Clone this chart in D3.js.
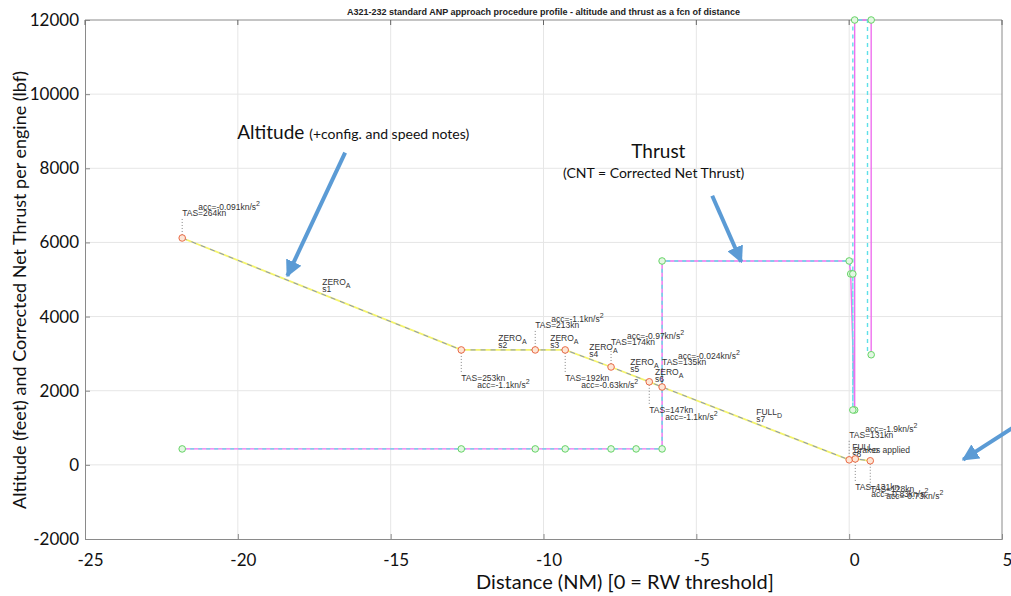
<!DOCTYPE html>
<html>
<head>
<meta charset="utf-8">
<script src="https://cdn.jsdelivr.net/npm/d3@7"></script>
<style>
  body { margin: 0; background: #fff; }
  svg { display: block; }
</style>
</head>
<body>
<script>
// altitude profile points (distance NM, feet)
const altDist = [-21.82, -12.69, -10.27, -9.29, -7.79, -6.54, -6.12, 0, 0.2, 0.69];
const altFeet = [6120, 3100, 3100, 3100, 2640, 2240, 2100, 135, 160, 110];

// speed notes per altitude point
const tasNotes = ["TAS=264kn", "TAS=253kn", "TAS=213kn", "TAS=192kn", "TAS=174kn", "TAS=147kn", "TAS=135kn", "TAS=131kn", "TAS=131kn", "TAS=128kn"];
const accNotes = ["-0.091", "-1.1", "-1.1", "-0.63", "-0.97", "-1.1", "-0.024", "-1.9", "-0.83", "-0.73"];
const noteSide = ["up", "down", "up", "down", "up", "down", "up", "up", "down", "down"];

// configuration notes along the profile
const cfgDist = [-17.24, -11.48, -9.78, -8.5, -7.16, -6.35, -3.04, 0.1];
const cfgName = ["ZERO", "ZERO", "ZERO", "ZERO", "ZERO", "ZERO", "FULL", "FULL"];
const cfgSub = ["A", "A", "A", "A", "A", "A", "D", "D"];
const cfgSeg = ["s1", "s2", "s3", "s4", "s5", "s6", "s7", "s8"];

// thrust (lbf) - two overlapping series
const thrDist = [-21.82, -12.69, -10.27, -9.29, -7.79, -6.97, -6.12, -6.12, 0, 0.05, 0.18, 0.18, 0.72, 0.72];
const thrLbf = [430, 430, 430, 430, 430, 430, 430, 5500, 5500, 5150, 1480, 12000, 12000, 2970];
const cntDist = [-21.82, -12.69, -10.27, -9.29, -7.79, -6.97, -6.12, -6.12, 0, 0.12, 0.12, 0.12, 0.6, 0.6];
const cntLbf = [430, 430, 430, 430, 430, 430, 430, 5500, 5500, 5150, 1480, 12000, 12000, 2970];

const xTicks = [-25, -20, -15, -10, -5, 0, 5];
const yTicks = [-2000, 0, 2000, 4000, 6000, 8000, 10000, 12000];

const width = 1011, height = 596;
const svg = d3.select("body").append("svg")
  .attr("width", width).attr("height", height);

const x = d3.scaleLinear().domain([-25, 5]).range([85, 1002]);
const y = d3.scaleLinear().domain([-2000, 12000]).range([539, 20]);

// grid
svg.append("g").selectAll("line").data(xTicks.slice(1, -1)).enter().append("line")
  .attr("x1", d => x(d)).attr("x2", d => x(d))
  .attr("y1", y.range()[1]).attr("y2", y.range()[0])
  .attr("stroke", "#e6e6e6").attr("stroke-width", 1);
svg.append("g").selectAll("line").data(yTicks.slice(1, -1)).enter().append("line")
  .attr("x1", x.range()[0]).attr("x2", x.range()[1])
  .attr("y1", d => y(d)).attr("y2", d => y(d))
  .attr("stroke", "#e6e6e6").attr("stroke-width", 1);

// axes
const fmt = d => String(d);
const xAxis = d3.axisBottom(x).tickValues(xTicks).tickSize(-5).tickPadding(15).tickFormat(fmt);
const yAxis = d3.axisLeft(y).tickValues(yTicks).tickSize(-5).tickPadding(6).tickFormat(fmt);
const gx = svg.append("g").attr("transform", `translate(0,${y(-2000)})`).call(xAxis);
const gy = svg.append("g").attr("transform", `translate(${x(-25)},0)`).call(yAxis);
[gx, gy].forEach(g => {
  g.select(".domain").attr("stroke", "#8a8a8a");
  g.selectAll(".tick line").attr("stroke", "#8a8a8a");
  g.selectAll("text").attr("font-family", "Lato, sans-serif").attr("font-size", 17).attr("fill", "#111");
});
gx.selectAll("text").attr("dx", 5);
// top and right border
svg.append("line").attr("x1", x(-25)).attr("x2", x(5)).attr("y1", y(12000)).attr("y2", y(12000)).attr("stroke", "#8a8a8a");
svg.append("line").attr("x1", x(5)).attr("x2", x(5)).attr("y1", y(12000)).attr("y2", y(-2000)).attr("stroke", "#8a8a8a");
svg.append("g").selectAll("line").data(xTicks).enter().append("line")
  .attr("x1", d => x(d)).attr("x2", d => x(d)).attr("y1", y(12000)).attr("y2", y(12000) + 5)
  .attr("stroke", "#666");

// titles
svg.append("text").attr("x", (x(-25) + x(5)) / 2).attr("y", 15).attr("text-anchor", "middle")
  .attr("font-family", "Liberation Sans, Arial, sans-serif").attr("font-weight", "bold").attr("font-size", 9).attr("fill", "#222")
  .text("A321-232 standard ANP approach procedure profile - altitude and thrust as a fcn of distance");
svg.append("text").attr("x", 625).attr("y", 589).attr("text-anchor", "middle")
  .attr("font-family", "Lato, sans-serif").attr("font-size", 20).attr("fill", "#111")
  .text("Distance (NM) [0 = RW threshold]");
svg.append("text").attr("transform", "translate(26,290) rotate(-90)").attr("text-anchor", "middle")
  .attr("font-family", "Lato, sans-serif").attr("font-size", 18).attr("fill", "#111")
  .text("Altitude (feet) and Corrected Net Thrust per engine (lbf)");

const line = d3.line().x(d => x(d[0])).y(d => y(d[1]));
const thr = d3.zip(thrDist, thrLbf);
const cnt = d3.zip(cntDist, cntLbf);
const alt = d3.zip(altDist, altFeet);

// thrust lines
svg.append("path").datum(thr).attr("d", line).attr("fill", "none").attr("stroke", "#ee70ee").attr("stroke-width", 1.4);
svg.append("path").datum(cnt).attr("d", line).attr("fill", "none").attr("stroke", "#5fe0e8").attr("stroke-width", 1.4).attr("stroke-dasharray", "4,4");
svg.append("g").selectAll("circle").data(thr.concat(cnt.slice(9, 11))).enter().append("circle")
  .attr("cx", d => x(d[0])).attr("cy", d => y(d[1])).attr("r", 3.3)
  .attr("fill", "#e2f7e2").attr("stroke", "#66d466").attr("stroke-width", 1);

// altitude line
svg.append("path").datum(alt).attr("d", line).attr("fill", "none").attr("stroke", "#f4f46c").attr("stroke-width", 1.8);
svg.append("path").datum(alt).attr("d", line).attr("fill", "none").attr("stroke", "#8592c0").attr("stroke-width", 1).attr("stroke-dasharray", "5,5");

// altitude interpolation for config notes
function altAt(d) {
  for (let i = 0; i < altDist.length - 1; i++) {
    if (d >= altDist[i] && d <= altDist[i + 1]) {
      const t = (d - altDist[i]) / (altDist[i + 1] - altDist[i]);
      return altFeet[i] + t * (altFeet[i + 1] - altFeet[i]);
    }
  }
  return altFeet[altFeet.length - 1];
}

const noteFont = "Liberation Sans, Arial, sans-serif";
const notes = svg.append("g").attr("font-family", noteFont).attr("font-size", 8.5).attr("fill", "#333");

// speed notes with dotted leaders
alt.forEach((p, i) => {
  const px = x(p[0]), py = y(p[1]);
  const up = noteSide[i] === "up";
  notes.append("line").attr("x1", px).attr("x2", px).attr("y1", py).attr("y2", py + (up ? -20 : 24))
    .attr("stroke", "#666").attr("stroke-width", 0.8).attr("stroke-dasharray", "1,2");
  notes.append("text").attr("x", px).attr("y", py + (up ? -22 : 31)).text(tasNotes[i]);
  const acc = notes.append("text").attr("x", px + 16).attr("y", py + (up ? -28 : 38));
  acc.append("tspan").text("acc=" + accNotes[i] + "kn/s");
  acc.append("tspan").attr("dy", -4).attr("font-size", 7).text("2");
});

// configuration notes
cfgDist.forEach((d, i) => {
  const px = x(d), py = y(altAt(d));
  const t = notes.append("text").attr("x", px).attr("y", py - 9);
  t.append("tspan").text(cfgName[i]);
  t.append("tspan").attr("dy", 3).attr("font-size", 7).text(cfgSub[i]);
  notes.append("text").attr("x", px).attr("y", py - 2).text(cfgSeg[i]);
});
notes.append("text").attr("x", x(0.15)).attr("y", y(altAt(0.15)) - 6).text("Brakes applied");

// altitude markers
svg.append("g").selectAll("circle").data(alt).enter().append("circle")
  .attr("cx", d => x(d[0])).attr("cy", d => y(d[1])).attr("r", 3.3)
  .attr("fill", "#fde6d6").attr("stroke", "#ea6a45").attr("stroke-width", 1);

// callouts
const blue = "#5b9bd5";
svg.append("defs").append("marker").attr("id", "head")
  .attr("viewBox", "0 0 10 10").attr("refX", 9).attr("refY", 5)
  .attr("markerWidth", 4.2).attr("markerHeight", 4.2).attr("orient", "auto")
  .append("path").attr("d", "M0,0L10,5L0,10Z").attr("fill", blue);
const arrows = [
  [[-16.49, 8420], [-18.38, 5100]],
  [[-4.48, 7260], [-3.53, 5480]],
  [[5.35, 1000], [3.73, 140]]
];
svg.append("g").selectAll("line").data(arrows).enter().append("line")
  .attr("x1", d => x(d[0][0])).attr("y1", d => y(d[0][1]))
  .attr("x2", d => x(d[1][0])).attr("y2", d => y(d[1][1]))
  .attr("stroke", blue).attr("stroke-width", 4).attr("marker-end", "url(#head)");

const a = svg.append("text").attr("x", x(-20.02)).attr("y", y(8790))
  .attr("font-family", "Lato, sans-serif").attr("fill", "#111");
a.append("tspan").attr("font-size", 19).text("Altitude ");
a.append("tspan").attr("font-size", 14).text("(+config. and speed notes)");
svg.append("text").attr("x", x(-7.13)).attr("y", y(8280))
  .attr("font-family", "Lato, sans-serif").attr("font-size", 19).attr("fill", "#111").text("Thrust");
svg.append("text").attr("x", x(-9.36)).attr("y", y(7740))
  .attr("font-family", "Lato, sans-serif").attr("font-size", 14).attr("fill", "#111").text("(CNT = Corrected Net Thrust)");
</script>
</body>
</html>
